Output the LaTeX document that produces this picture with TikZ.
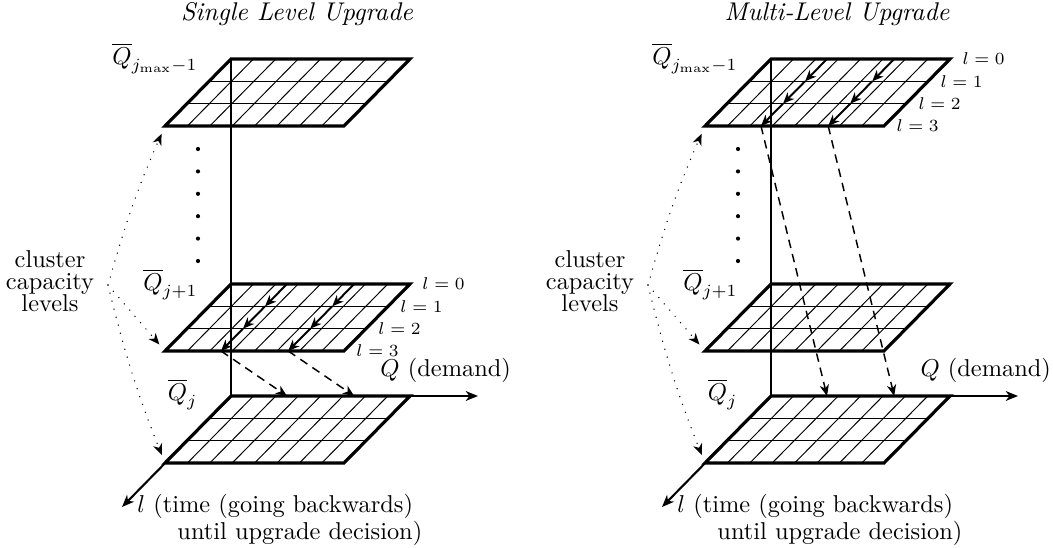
\documentclass[tikz,border=0pt]{standalone}
\usetikzlibrary{arrows.meta}
\newcommand{\drawplane}[3]{% #1 name, #2 back-left x, #3 back-left y
  \foreach \k in {1,...,7} {
    \draw[gridline] ({#2+\k*22.4},#3) -- ({#2+\k*22.4-66},{#3+67});
  }
  \foreach \r in {1,2} {
    \draw[gridline] ({#2-\r*22},{#3+\r*22.333}) -- ({#2+179-\r*22},{#3+\r*22.333});
  }
  \coordinate (#1-bl) at (#2,#3);
  \coordinate (#1-br) at ({#2+179},#3);
  \coordinate (#1-fr) at ({#2+113},{#3+67});
  \coordinate (#1-fl) at ({#2-66},{#3+67});
  \draw[border] (#1-bl) -- (#1-br) -- (#1-fr) -- (#1-fl) -- cycle;
}
\newcommand{\levellabels}[3]{% #1 name, #2 back-right x, #3 back y
  \foreach \lv in {0,...,3} {
    \node[llabel] (#1-\lv) at ({#2-\lv*22+12},{#3+\lv*22.333}) {$l=\lv$};
  }
}
\newcommand{\flow}[5]{% #1 x0, #2 y0, #3 column, #4 target y, #5 name
  \foreach \lv in {0,...,3} {
    \coordinate (#5-\lv) at ({#1+#3*22.4-\lv*22},{#2+\lv*22.333});
  }
  \coordinate (#5-t) at ({#1+#3*22.4},#4);
  \draw[flowarrow] (#5-0) -- (#5-1);
  \draw[flowarrow] (#5-1) -- (#5-2);
  \draw[flowarrow] (#5-2) -- (#5-3);
  \draw[jumparrow] (#5-3) -- (#5-t);
}
\newcommand{\panel}[2]{% #1 suffix, #2 x offset
  \drawplane{pa#1}{231+#2}{59}
  \drawplane{pb#1}{231+#2}{284}
  \drawplane{pc#1}{231+#2}{396}
  \coordinate (o#1) at ({231+#2},396);
  \coordinate (qend#1) at ({478+#2},396);
  \coordinate (lend#1) at ({122+#2},507);
  \draw[axisline] (pa#1-bl) -- (o#1);
  \draw[axisarrow] (o#1) -- (qend#1);
  \draw[axisarrow] (o#1) -- (lend#1);
  \foreach \i in {0,...,5} {
    \fill ({198+#2},{149+\i*22.4}) circle[radius=0.85pt];
  }
  \node[qlabel] (qa#1) at ({198+#2},58) {$\overline{Q}_{j_{\max}-1}$};
  \node[qlabel] (qb#1) at ({198+#2},284) {$\overline{Q}_{j+1}$};
  \node[qlabel] (qc#1) at ({198+#2},394) {$\overline{Q}_{j}$};
  \node[anchor=west,inner sep=0pt] (dem#1) at ({380+#2},370) {$Q$ (demand)};
  \node[align=center,inner sep=0pt,font=\fontsize{10}{9}\selectfont] (cl#1) at ({50+#2},281) {cluster\\capacity\\levels};
  \coordinate (cs#1) at ({108+#2},285);
  \draw[levelarrow] (cs#1) to[bend left=4] (pa#1-fl);
  \draw[levelarrow] (cs#1) -- (pb#1-fl);
  \draw[levelarrow] (cs#1) to[bend right=4] (pc#1-fl);
  \node[anchor=north west,inner sep=0pt,align=left,font=\fontsize{10}{9.8}\selectfont] (lt#1) at ({137+#2},494) {$l$ (time (going backwards)\\\hspace*{16.4pt}until upgrade decision)};
}
\begin{document}
\begin{tikzpicture}[x=0.41pt,y=-0.41pt,
  border/.style={line width=1.3pt,line join=miter},
  gridline/.style={line width=0.4pt},
  axisline/.style={line width=0.85pt},
  axisarrow/.style={line width=0.85pt,-{Stealth[length=5pt,width=4pt,inset=1.5pt]}},
  flowarrow/.style={line width=0.8pt,-{Stealth[length=4.6pt,width=3.8pt,inset=1.4pt]}},
  jumparrow/.style={line width=0.6pt,dash pattern=on 3.5pt off 2.5pt,-{Stealth[length=4.6pt,width=3.8pt,inset=1.4pt]}},
  levelarrow/.style={line width=0.6pt,line cap=round,dash pattern=on 0pt off 3.4pt,shorten >=3.5pt,-{Stealth[length=4.6pt,width=3.8pt,inset=1.4pt]}},
  qlabel/.style={anchor=east,inner sep=0pt},
  llabel/.style={anchor=west,inner sep=0pt,font=\scriptsize},
  title/.style={font=\fontsize{10.5}{12}\selectfont\itshape},
]
\useasboundingbox (0,0) rectangle (1053,548);
\node[title] (t1) at (297,14) {Single Level Upgrade};
\node[title] (t2) at (837,14) {Multi-Level Upgrade};
\panel{L}{0}
\panel{R}{540}
\levellabels{lvL}{410}{284}
\levellabels{lvR}{950}{59}
\flow{231}{284}{2.5}{396}{fa}
\flow{231}{284}{5.5}{396}{fb}
\flow{771}{59}{2.5}{396}{fc}
\flow{771}{59}{5.5}{396}{fd}
\end{tikzpicture}
\end{document}
